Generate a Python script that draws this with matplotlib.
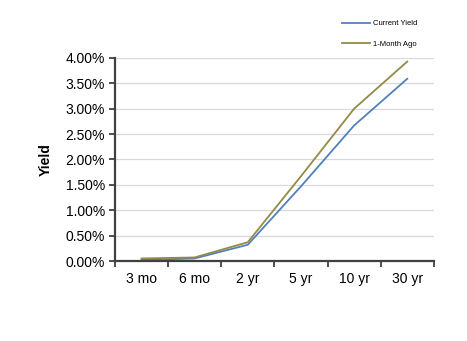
import numpy as np
import matplotlib.pyplot as plt
from matplotlib.ticker import FuncFormatter, FixedLocator

plt.rcParams['font.family'] = ['Liberation Sans', 'DejaVu Sans']

# Treasury yield curve data (percent)
maturities = ['3 mo', '6 mo', '2 yr', '5 yr', '10 yr', '30 yr']
current_yield = [0.02, 0.05, 0.32, 1.47, 2.67, 3.59]
month_ago = [0.05, 0.07, 0.37, 1.67, 3.00, 3.93]

fig = plt.figure(figsize=(4.67, 3.41), dpi=100)
ax = fig.add_axes([0.246, 0.2346, 0.683, 0.5954])

x = np.arange(len(maturities))
ax.plot(x, current_yield, color='#4f81bd', lw=1.3, label='Current Yield')
ax.plot(x, month_ago, color='#948a47', lw=1.3, label='1-Month Ago')

ax.set_xlim(-0.5, len(maturities) - 0.5)
ax.set_ylim(0, 4.0)
ax.set_yticks(np.arange(0, 4.01, 0.5))
ax.yaxis.set_major_formatter(FuncFormatter(lambda v, p: '%.2f%%' % v))
ax.yaxis.grid(True, color='#d9d9d9', lw=0.9)
ax.set_axisbelow(True)

# category labels in centers, tick marks at boundaries
ax.set_xticks(x)
ax.set_xticklabels(maturities)
ax.tick_params(axis='x', which='major', length=0, pad=8, labelsize=10)
ax.xaxis.set_minor_locator(FixedLocator(np.arange(-0.5, len(maturities), 1.0)))
ax.tick_params(axis='x', which='minor', length=4, width=1.3, color='#404040', direction='out')
ax.tick_params(axis='y', length=4, width=1.3, color='#404040', direction='out', labelsize=10, pad=3)

for s in ['top', 'right']:
    ax.spines[s].set_visible(False)
for s in ['left', 'bottom']:
    ax.spines[s].set_color('#404040')
    ax.spines[s].set_linewidth(1.6)

ax.set_ylabel('Yield', fontsize=10, fontweight='bold', labelpad=9)

fig.legend(loc='upper left', bbox_to_anchor=(0.718, 0.962), frameon=False,
           fontsize=5.5, handlelength=3.6, handletextpad=0.4, labelspacing=1.75)

fig.savefig('out.png', dpi=100)
